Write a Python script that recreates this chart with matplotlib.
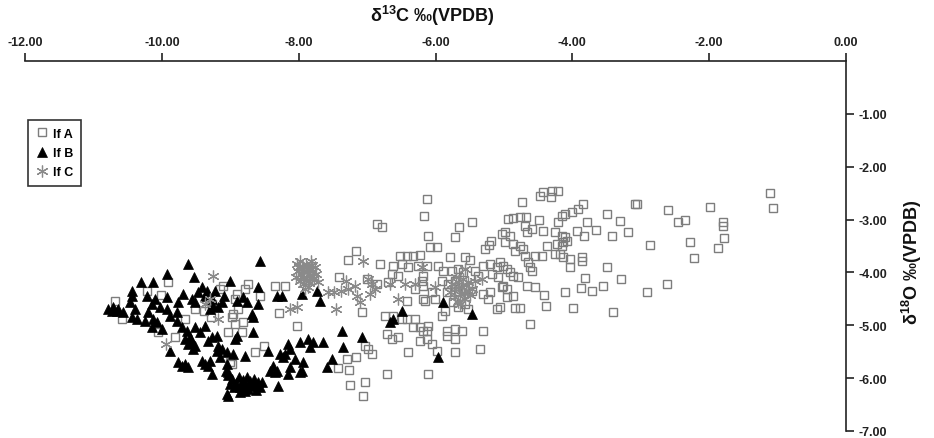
import matplotlib
matplotlib.use("Agg")
import matplotlib.pyplot as plt

plt.rcParams['font.family'] = ['Liberation Sans', 'DejaVu Sans']
plt.rcParams['mathtext.fontset'] = 'custom'
plt.rcParams['mathtext.rm'] = 'Liberation Sans:bold'
plt.rcParams['mathtext.bf'] = 'Liberation Sans:bold'

# ---------------- data ----------------
x_ticks = [-12, -10, -8, -6, -4, -2, 0]
y_ticks = [-1, -2, -3, -4, -5, -6, -7]
labels = ["lf A", "lf B", "lf C"]

lfA_x = [
    -3.05, -2.60, -1.99, -1.11, -1.07, -2.46, -2.35, -1.80, -1.80, -1.78, -1.87, -2.28, -2.22, -2.86, -2.62, -2.91,
    -4.43, -4.30, -4.21, -4.47, -4.31, -4.74, -3.84, -3.92, -4.01, -4.11,
    -4.15, -3.08, -3.49, -3.30, -3.19, -3.42, -3.65, -3.78, -3.93, -3.83,
    -4.21, -4.49, -4.94, -4.87, -4.76, -4.68, -4.69, -4.59, -4.66, -4.43,
    -4.25, -4.15, -4.11, -4.08, -4.14, -4.15, -4.22, -4.98, -4.91, -4.98,
    -4.87, -4.76, -4.72, -4.84, -4.69, -4.65, -4.37, -4.25, -4.18, -4.14,
    -4.44, -4.55, -4.04, -3.86, -3.86, -4.04, -4.62, -4.59, -5.06, -5.01,
    -4.95, -4.91, -4.87, -4.79, -3.49, -3.81, -3.29, -3.55, -3.71, -3.87,
    -4.11, -4.42, -4.66, -4.55, -5.01, -4.95, -4.87, -4.95, -5.06, -4.84,
    -4.76, -4.38, -3.99, -3.41, -4.62,
    -6.12, -6.17, -6.85, -6.78, -6.11, -5.66, -5.47, -5.71, -5.19, -5.22,
    -5.28, -5.03, -6.08, -5.98, -6.52, -6.42, -6.33, -6.23, -6.81, -5.79,
    -5.57, -5.50, -6.62, -6.49, -6.40, -6.26, -6.13, -5.96, -5.89, -5.76,
    -5.67, -5.60, -5.42, -5.38, -5.31, -5.20, -5.10, -5.17, -5.09, -6.64,
    -6.55, -6.19, -6.20, -6.85, -6.69, -5.90, -5.82, -5.71, -5.03, -6.30,
    -6.18, -6.05, -5.83, -5.67, -5.57, -5.47, -6.18, -6.15, -6.01, -5.31,
    -5.20, -5.23, -6.42, -5.74, -5.67, -5.57, -5.53, -5.10, -5.86, -5.90,
    -6.74, -6.62, -6.49, -6.42, -6.30, -6.33, -6.23, -6.11, -6.12, -6.18,
    -5.83, -5.71, -5.61, -5.31, -6.71, -6.55, -6.64, -6.23, -6.12, -5.83,
    -5.71, -6.05, -6.99, -6.93, -6.40, -5.71, -5.35, -5.98, -6.71, -6.11,
    -7.16, -7.28, -7.41, -8.35, -8.20, -8.74, -8.78, -8.56, -8.90, -8.93,
    -8.89, -8.96, -8.93, -8.82, -8.83, -8.98, -8.29, -8.02, -8.50, -8.64,
    -8.98, -7.07, -7.03, -7.29, -7.16, -7.42, -7.26, -7.25, -7.03,
    -7.06, -7.00,
    -10.68, -10.58, -9.91, -10.22, -10.01, -10.06, -9.81, -9.04, -9.15, -9.11,
    -9.38, -9.28, -9.00, -9.51, -9.66, -9.27,
]
lfA_y = [
    -2.71, -2.82, -2.76, -2.50, -2.78, -3.05, -3.01, -3.04, -3.13, -3.34, -3.54, -3.42, -3.72, -3.48, -4.22, -4.37,
    -2.48, -2.46, -2.46, -2.55, -2.57, -2.67, -2.71, -2.80, -2.86, -2.89,
    -2.93, -2.71, -2.89, -3.03, -3.23, -3.31, -3.20, -3.05, -3.22, -3.31,
    -3.05, -3.01, -2.99, -2.97, -2.95, -2.95, -3.12, -3.18, -3.24, -3.22,
    -3.24, -3.31, -3.33, -3.41, -3.42, -3.50, -3.46, -3.24, -3.31, -3.42,
    -3.46, -3.50, -3.56, -3.59, -3.69, -3.80, -3.50, -3.65, -3.65, -3.71,
    -3.69, -3.69, -3.75, -3.71, -3.78, -3.90, -3.90, -3.97, -3.80, -3.88,
    -3.93, -3.99, -4.07, -4.09, -3.90, -4.11, -4.12, -4.26, -4.35, -4.29,
    -4.37, -4.43, -4.26, -4.28, -4.26, -4.31, -4.45, -4.46, -4.65, -4.67,
    -4.67, -4.63, -4.67, -4.75, -4.98,
    -2.61, -2.93, -3.08, -3.14, -3.31, -3.14, -3.05, -3.33, -3.41, -3.48,
    -3.56, -3.27, -3.52, -3.52, -3.69, -3.69, -3.69, -3.67, -3.84, -3.71,
    -3.71, -3.76, -3.88, -3.84, -3.90, -3.88, -3.88, -3.88, -3.97, -3.97,
    -3.93, -3.99, -3.97, -4.07, -3.88, -3.84, -3.90, -4.03, -4.09, -4.03,
    -4.07, -4.07, -4.16, -4.22, -4.18, -4.16, -4.22, -4.16, -4.28, -4.31,
    -4.26, -4.37, -4.37, -4.35, -4.31, -4.35, -4.50, -4.54, -4.50, -4.41,
    -4.37, -4.50, -4.54, -4.56, -4.65, -4.60, -4.69, -4.69, -4.73, -4.82,
    -4.82, -4.82, -4.88, -4.88, -4.88, -5.03, -5.03, -5.01, -5.11, -5.11,
    -5.11, -5.07, -5.11, -5.11, -5.16, -5.22, -5.26, -5.30, -5.26, -5.20,
    -5.26, -5.35, -5.45, -5.54, -5.51, -5.51, -5.45, -5.49, -5.92, -5.92,
    -3.59, -3.76, -4.09, -4.26, -4.26, -4.22, -4.31, -4.45, -4.41, -4.50,
    -4.69, -4.79, -4.98, -4.94, -5.13, -4.84, -4.77, -5.01, -5.39, -5.51,
    -5.73, -4.75, -5.39, -5.64, -5.60, -5.81, -5.85, -6.13, -6.07,
    -6.34, -4.12,
    -4.54, -4.88, -4.18, -4.35, -4.43, -5.13, -5.22, -5.13, -4.31, -4.26,
    -4.73, -4.84, -5.69, -4.69, -4.88, -4.60,
]

lfB_x = [
    -6.49, -6.62, -6.66, -5.89, -5.47, -5.96, -8.56, -9.00, -8.59, -8.31,
    -8.24, -7.95, -7.73, -7.69, -8.90, -8.81, -8.75, -8.59, -8.68, -8.67,
    -8.90, -8.93, -8.67, -7.37, -7.07, -7.64, -7.86, -7.79, -7.83, -7.98,
    -8.16, -8.13, -7.35, -8.45, -8.27, -8.23, -8.20, -8.05, -7.94, -7.51,
    -7.58, -8.96, -8.78, -8.38, -8.42, -8.31, -8.35, -8.12, -7.98, -8.16,
    -8.30, -8.64, -8.53, -7.95, -9.03, -8.97, -8.92, -8.86, -8.80, -8.74,
    -8.68, -8.62, -8.56, -8.87, -8.82, -8.76, -8.71, -8.94, -9.00, -8.79,
    -8.65, -8.59, -9.06, -8.86, -9.03, -9.62, -9.92, -9.53, -10.30, -10.13,
    -10.44, -10.44, -10.71, -10.66, -10.73, -10.64, -10.78, -10.57, -10.46, -10.39,
    -10.44, -10.36, -10.22, -10.10, -10.15, -10.03, -10.20, -10.24, -10.13, -10.07,
    -10.00, -10.15, -9.92, -9.88, -9.78, -9.78, -9.71, -9.63, -9.69, -9.56,
    -9.52, -9.47, -9.41, -9.37, -9.27, -9.25, -9.18, -9.12, -9.23, -9.92,
    -9.76, -9.66, -9.59, -9.56, -9.52, -9.55, -9.62, -9.51, -9.37, -9.44,
    -9.33, -9.27, -9.20, -9.18, -9.12, -9.20, -9.05, -9.76, -9.71, -9.66,
    -9.62, -9.41, -9.37, -9.33, -9.30, -9.15, -9.88, -9.27, -9.05, -9.04,
    -9.05, -9.34, -9.09, -9.30,
]
lfB_y = [
    -4.73, -4.88, -4.94, -4.56, -4.79, -5.60, -3.78, -4.16, -4.28, -4.45,
    -4.45, -4.41, -4.35, -4.54, -4.54, -4.46, -4.56, -4.60, -4.79, -4.84,
    -5.20, -5.26, -5.13, -5.11, -5.22, -5.32, -5.26, -5.32, -5.41, -5.32,
    -5.35, -5.45, -5.41, -5.49, -5.54, -5.60, -5.54, -5.64, -5.69, -5.64,
    -5.79, -5.54, -5.58, -5.77, -5.86, -5.86, -5.88, -5.79, -5.88, -5.92,
    -6.15, -6.15, -6.07, -5.86, -5.94, -6.02, -6.09, -6.17, -6.11, -6.21,
    -6.13, -6.22, -6.17, -5.98, -6.03, -5.98, -6.05, -6.17, -6.11, -6.24,
    -6.02, -6.07, -5.86, -6.26, -6.34, -3.84, -4.03, -4.09, -4.18, -4.18,
    -4.35, -4.45, -4.65, -4.73, -4.73, -4.69, -4.69, -4.75, -4.56, -4.69,
    -4.84, -4.88, -4.45, -4.50, -4.60, -4.65, -4.75, -4.92, -4.88, -4.94,
    -5.07, -5.03, -4.69, -4.82, -4.75, -4.92, -5.03, -5.11, -4.41, -4.50,
    -4.56, -4.37, -4.28, -4.45, -4.50, -4.63, -4.65, -4.56, -4.35, -4.46,
    -4.56, -5.26, -5.22, -5.32, -5.39, -5.45, -5.35, -5.03, -5.01, -5.13,
    -5.30, -5.22, -5.20, -5.39, -5.45, -5.49, -5.51, -5.69, -5.77, -5.73,
    -5.79, -5.68, -5.73, -5.77, -5.68, -5.60, -5.49, -5.92, -5.73, -5.88,
    -6.30, -4.35, -4.45, -4.69,
]

lfC_x = [
    -8.03, -7.98, -7.94, -7.89, -7.85, -7.80, -7.76, -8.01, -7.97, -7.92,
    -7.88, -7.83, -7.79, -7.75, -7.98, -7.94, -7.89, -7.85, -7.80, -7.91,
    -7.86, -8.00, -7.82, -7.77, -7.95, -7.88, -8.04, -7.72,
    -8.13, -8.03, -7.57, -7.48, -7.38, -7.31, -7.28, -7.18, -7.15, -7.10,
    -7.45, -7.06, -6.93, -6.99, -6.89, -6.96, -6.66, -6.55, -6.45, -6.30,
    -6.20, -6.01,
    -5.76, -5.71, -5.67, -5.64, -5.61, -5.57, -5.52, -5.71, -5.67, -5.60,
    -5.55, -5.50, -5.79, -5.64, -5.52, -5.47, -5.70, -5.58,
    -5.42, -5.32, -5.57, -9.25, -9.94, -9.37, -9.30, -9.18,
]
lfC_y = [
    -3.84, -3.78, -3.90, -3.84, -3.93, -3.86, -3.90, -3.97, -4.03, -4.09,
    -3.99, -4.05, -3.97, -4.03, -4.16, -4.22, -4.14, -4.20, -4.12, -4.31,
    -4.28, -3.90, -3.78, -4.11, -3.93, -3.90, -4.09, -4.18,
    -4.69, -4.65, -4.37, -4.37, -4.35, -4.16, -4.31, -4.26, -4.45, -4.56,
    -4.69, -3.78, -4.22, -4.12, -4.31, -4.41, -4.22, -4.50, -4.22, -4.22,
    -3.90, -4.28,
    -4.22, -4.31, -4.18, -4.41, -4.28, -4.50, -4.35, -4.46, -4.56, -4.12,
    -4.24, -4.43, -4.37, -4.60, -4.18, -4.31, -4.09, -4.39,
    -4.16, -4.12, -3.93, -4.07, -5.35, -4.60, -4.50, -4.88,
]

# ---------------- figure ----------------
W, H = 934, 439
fig = plt.figure(figsize=(W / 100, H / 100), dpi=100)
ax = fig.add_axes([25 / W, 1 - 432 / H, (846 - 25) / W, (432 - 62) / H])

asterisk = (6, 2, 0)
ax.plot(lfA_x, lfA_y, linestyle='none', marker='s', markersize=6,
        markerfacecolor='none', markeredgecolor='#7d7d7d', markeredgewidth=1.0,
        label=labels[0], zorder=2)
ax.plot(lfB_x, lfB_y, linestyle='none', marker='^', markersize=7,
        color='black', markeredgecolor='black', markeredgewidth=0.5,
        label=labels[1], zorder=3)
ax.plot(lfC_x, lfC_y, linestyle='none', marker=asterisk, markersize=8.5,
        color='#8a8a8a', markeredgecolor='#8a8a8a', markeredgewidth=0.9,
        label=labels[2], zorder=4)

ax.set_xlim(-12, 0)
ax.set_ylim(-7, 0)

for s in ['left', 'bottom']:
    ax.spines[s].set_visible(False)
for s in ['top', 'right']:
    ax.spines[s].set_linewidth(1.2)
    ax.spines[s].set_color('#222222')

ax.xaxis.tick_top()
ax.yaxis.tick_right()
ax.set_xticks(x_ticks)
ax.set_xticklabels([f"{v:.2f}" for v in x_ticks])
ax.set_yticks(y_ticks)
ax.set_yticklabels([f"{v:.2f}" for v in y_ticks])
ax.tick_params(axis='both', direction='out', length=6, width=1.2,
               color='#222222', labelsize=9, pad=3)
for lab in ax.get_xticklabels() + ax.get_yticklabels():
    lab.set_fontweight('bold')
    lab.set_color('#222222')

fig.text(432 / W, 1 - 16 / H, r"δ$^{13}$C ‰(VPDB)", ha='center', va='center',
         fontsize=13, fontweight='bold', color='#111111')
fig.text(912 / W, 1 - 262 / H, r"δ$^{18}$O ‰(VPDB)", ha='center', va='center',
         rotation=90, fontsize=13, fontweight='bold', color='#111111')

leg = fig.legend(loc='upper left', bbox_to_anchor=(28 / W, 1 - 121 / H),
                 frameon=True, fancybox=False, edgecolor='#333333',
                 framealpha=1, borderpad=0.6, handletextpad=0.3,
                 handlelength=1.1, labelspacing=0.6, borderaxespad=0,
                 prop={'weight': 'bold', 'size': 9})
leg.get_frame().set_linewidth(1.2)

fig.savefig("out.png", dpi=100)
